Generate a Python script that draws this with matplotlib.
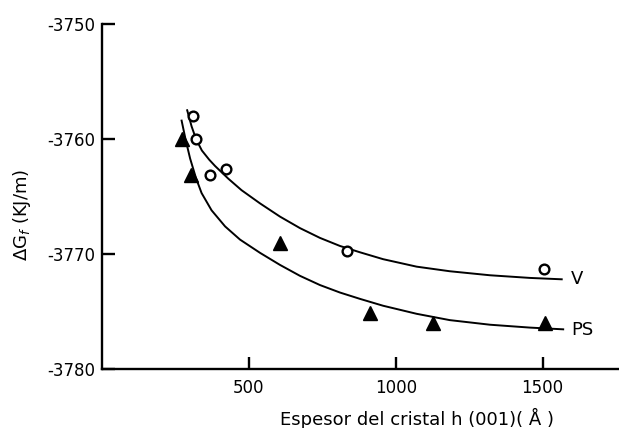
import matplotlib
matplotlib.use("Agg")
import matplotlib.pyplot as plt

plt.rcParams['axes.unicode_minus'] = False
plt.rcParams['font.family'] = ['DejaVu Sans']

# Data points
v_x = [309, 319, 368, 423, 833, 1505]
v_y = [-3758.0, -3760.0, -3763.1, -3762.6, -3769.7, -3771.3]

ps_x = [273, 302, 606, 912, 1126, 1508]
ps_y = [-3760.0, -3763.1, -3769.0, -3775.1, -3776.0, -3776.0]

# Fitted curves
v_curve_x = [290, 305, 320, 340, 365, 385, 430, 475, 538, 606, 674, 742,
             810, 878, 957, 1071, 1184, 1321, 1457, 1565]
v_curve_y = [-3757.5, -3758.9, -3760.0, -3761.0, -3761.8, -3762.35, -3763.45,
             -3764.45, -3765.6, -3766.75, -3767.75, -3768.6, -3769.3,
             -3769.85, -3770.45, -3771.1, -3771.5, -3771.85, -3772.08,
             -3772.2]

ps_curve_x = [271, 285, 300, 320, 339, 373, 419, 470, 538, 606, 674, 742,
              810, 878, 957, 1071, 1184, 1321, 1457, 1570]
ps_curve_y = [-3758.4, -3760.1, -3761.7, -3763.4, -3764.7, -3766.2, -3767.6,
              -3768.75, -3769.9, -3770.95, -3771.9, -3772.7, -3773.35,
              -3773.9, -3774.5, -3775.2, -3775.75, -3776.15, -3776.4,
              -3776.55]

y_ticks = [-3780, -3770, -3760, -3750]
x_ticks = [500, 1000, 1500]

fig = plt.figure(figsize=(6.19, 4.28), dpi=100)
ax = fig.add_axes([102 / 619, 1 - 369 / 428, 1 - 102 / 619, (369 - 24) / 428])

ax.plot(v_curve_x, v_curve_y, color='black', lw=1.4, solid_joinstyle='round')
ax.plot(ps_curve_x, ps_curve_y, color='black', lw=1.4, solid_joinstyle='round')

ax.plot(v_x, v_y, linestyle='none', marker='o', markersize=7,
        markerfacecolor='white', markeredgecolor='black', markeredgewidth=1.7)
ax.plot(ps_x, ps_y, linestyle='none', marker='^', markersize=10,
        markerfacecolor='black', markeredgecolor='black')

ax.text(1596, -3772.2, 'V', fontsize=13, ha='left', va='center')
ax.text(1596, -3776.6, 'PS', fontsize=13, ha='left', va='center')

ax.set_xlim(0, 1760)
ax.set_ylim(-3780, -3750)
ax.set_xticks(x_ticks)
ax.set_yticks(y_ticks)
ax.set_xticklabels([str(t) for t in x_ticks])
ax.set_yticklabels([str(t) for t in y_ticks])

for s in ['top', 'right']:
    ax.spines[s].set_visible(False)
for s in ['left', 'bottom']:
    ax.spines[s].set_linewidth(1.7)

ax.tick_params(axis='both', direction='in', length=9, width=1.7,
               labelsize=12, pad=5)
ax.tick_params(axis='x', pad=7)

fig.text(22 / 619, 1 - 215 / 428, r'$\Delta$G$_f$ (KJ/m)', rotation=90,
         ha='center', va='center', fontsize=13)
fig.text(417 / 619, 1 - 418 / 428, 'Espesor del cristal h (001)( Å )',
         ha='center', va='center', fontsize=13)

fig.savefig('out.png', dpi=100)
